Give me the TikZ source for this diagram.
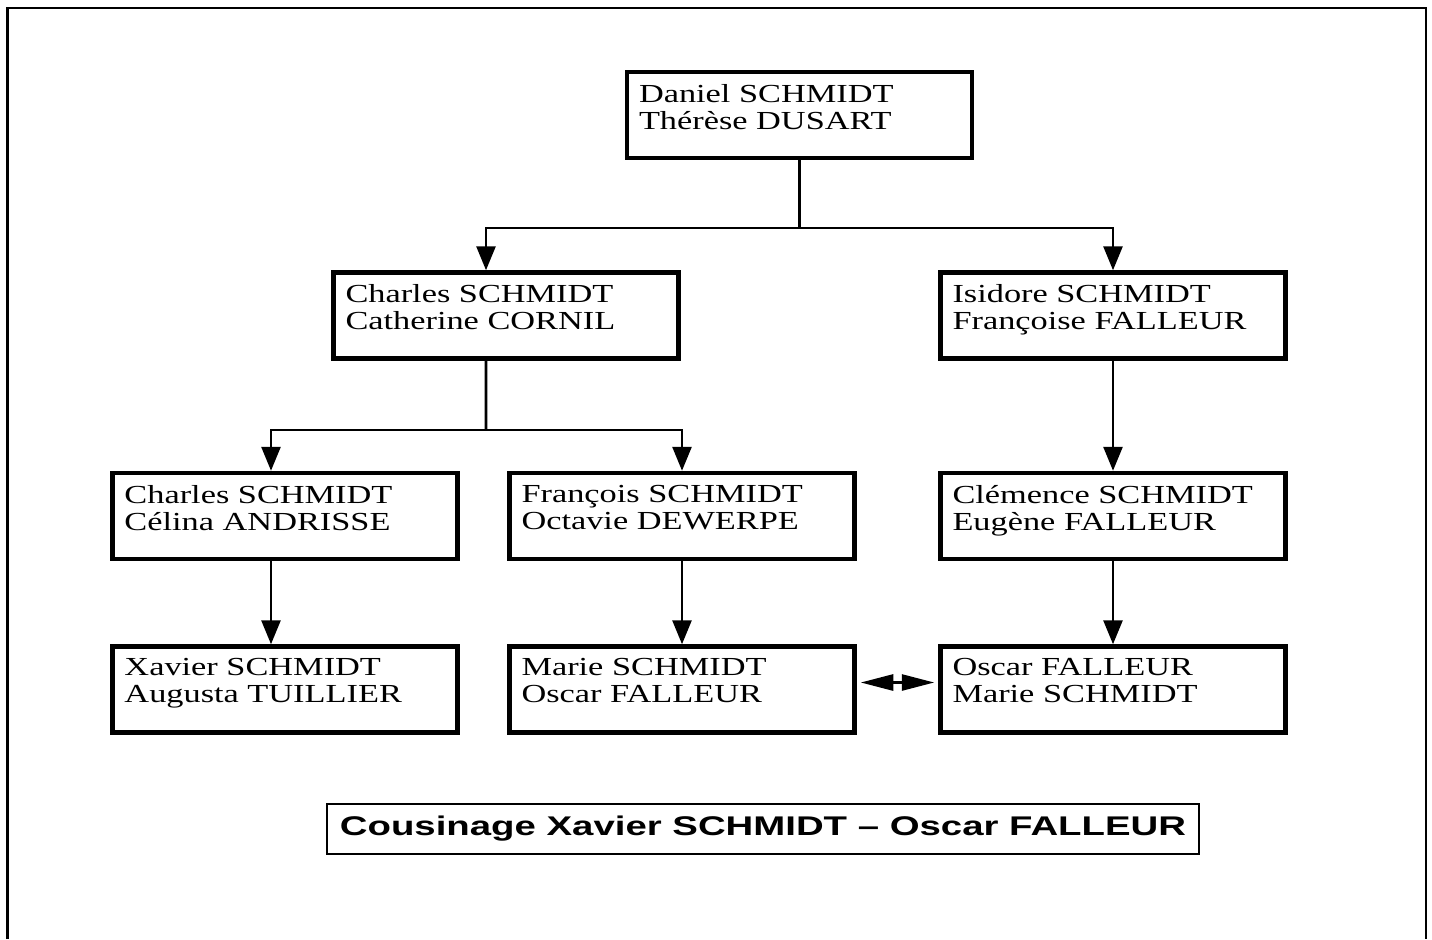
\documentclass[tikz,border=0pt]{standalone}
\usepackage{fontspec}
\newfontfamily\namefont[FakeStretch=1.32]{Liberation Serif}
\newfontfamily\titlefont[FakeStretch=1.42]{Liberation Sans}
\usetikzlibrary{arrows.meta}
\newcommand{\couple}[2]{\parbox[c][12.4mm][t]{64.2mm}{#1\\#2}}
\tikzset{
  >={Triangle[length=4.8mm, width=3.8mm]},
  pbox/.style={rectangle, draw=black, line width=0.9mm, inner sep=2.4mm, fill=white,
               font=\namefont\fontsize{14.8pt}{15.37pt}\selectfont},
  titlebox/.style={rectangle, draw=black, line width=0.4mm, minimum width=174.4mm,
                   minimum height=10mm, inner sep=0pt, font=\titlefont\bfseries\fontsize{15.37pt}{18pt}\selectfont},
  link/.style={line width=0.55mm, draw=black},
  flow/.style={->, line width=0.55mm, draw=black},
  flowboth/.style={{Triangle[length=6.5mm, width=3.2mm]}-{Triangle[length=6.5mm, width=3.2mm]},
                   line width=0.55mm, draw=black, shorten <=0.8mm, shorten >=0.8mm},
  frame/.style={line width=0.5mm, draw=black},
}
\begin{document}
\begin{tikzpicture}[x=0.2mm,y=-0.2mm]
  \useasboundingbox (0,0) rectangle (1432,939);
  \draw[frame] (7.5,939) -- (7.5,8) -- (1426,8) -- (1426,939);
  % generations
  \node[pbox] (daniel)   at (799.5,115)  {\couple{Daniel SCHMIDT}{Thérèse DUSART}};
  \node[pbox] (charles)  at (506,315.5)  {\couple{Charles SCHMIDT}{Catherine CORNIL}};
  \node[pbox] (isidore)  at (1113,315.5) {\couple{Isidore SCHMIDT}{Françoise FALLEUR}};
  \node[pbox] (charlesb) at (285,516)    {\couple{Charles SCHMIDT}{Célina ANDRISSE}};
  \node[pbox] (francois) at (682,516)    {\couple{François SCHMIDT}{Octavie DEWERPE}};
  \node[pbox] (clemence) at (1113,516)   {\couple{Clémence SCHMIDT}{Eugène FALLEUR}};
  \node[pbox] (xavier)   at (285,689.5)  {\couple{Xavier SCHMIDT}{Augusta TUILLIER}};
  \node[pbox] (marie)    at (682,689.5)  {\couple{Marie SCHMIDT}{Oscar FALLEUR}};
  \node[pbox] (oscar)    at (1113,689.5) {\couple{Oscar FALLEUR}{Marie SCHMIDT}};
  \node[titlebox] (title) at (763,829) {Cousinage Xavier SCHMIDT – Oscar FALLEUR};
  % descent lines
  \coordinate (j1) at (799.5,228);
  \coordinate (j2) at (486,430);
  \draw[link] (daniel.south) -- (j1);
  \draw[flow] (j1) -| ([xshift=-4mm]charles.north);
  \draw[flow] (j1) -| (isidore.north);
  \draw[link] ([xshift=-4mm]charles.south) -- (j2);
  \draw[flow] (j2) -| ([xshift=-2.8mm]charlesb.north);
  \draw[flow] (j2) -| (francois.north);
  \draw[flow] (isidore) -- (clemence);
  \draw[flow] ([xshift=-2.8mm]charlesb.south) -- ([xshift=-2.8mm]xavier.north);
  \draw[flow] (francois) -- (marie);
  \draw[flow] (clemence) -- (oscar);
  \draw[flowboth] ([yshift=1.4mm]marie.east) -- ([yshift=1.4mm]oscar.west);
\end{tikzpicture}
\end{document}
